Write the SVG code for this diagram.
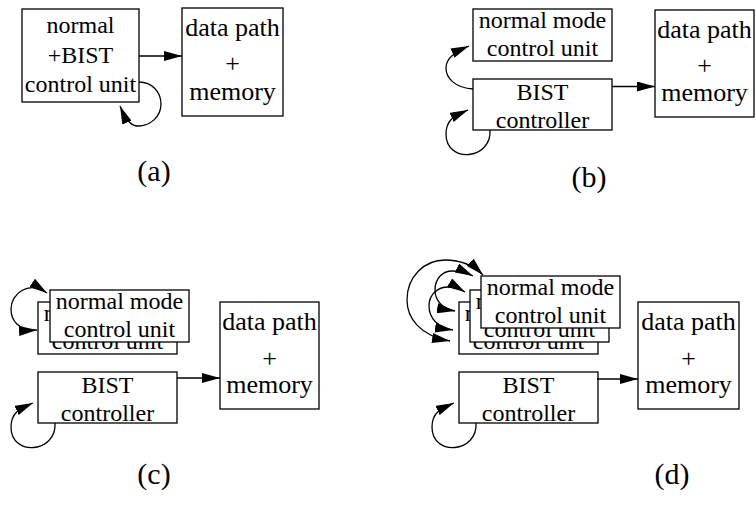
<svg xmlns="http://www.w3.org/2000/svg" width="756" height="506" viewBox="0 0 756 506">
  <style>
    .box { fill: #fff; stroke: #000; stroke-width: 1.3; }
    .wire { fill: none; stroke: #000; stroke-width: 1.3; }
    text { font-family: 'Liberation Serif', 'Times New Roman', Times, serif; fill: #000; text-anchor: middle; }
    .t24 { font-size: 24px; }
    .t26 { font-size: 26px; }
    .lbl { font-size: 30px; }
  </style>
  <defs>
    <marker id="ah" viewBox="0 0 18 10" refX="18" refY="5" markerWidth="18" markerHeight="10" markerUnits="userSpaceOnUse" orient="auto-start-reverse">
      <path d="M0,0 L18,5 L0,10 z" fill="#000"/>
    </marker>
  </defs>

  <rect width="756" height="506" fill="#fff"/>

  <!-- (a) single combined control unit -->
  <g id="a-ctrl">
    <rect class="box" x="22" y="9" width="117" height="93"/>
    <text class="t24" x="80.5" y="33">normal</text>
    <text class="t24" x="80.5" y="63">+BIST</text>
    <text class="t24" x="80.5" y="92">control unit</text>
  </g>
  <g id="a-dp">
    <rect class="box" x="182" y="8" width="101" height="108"/>
    <text class="t26" x="232.5" y="36">data path</text>
    <text class="t26" x="232.5" y="72">+</text>
    <text class="t26" x="232.5" y="100">memory</text>
  </g>

  <!-- (b) separate BIST controller -->
  <g id="b-normal">
    <rect class="box" x="473" y="9" width="139" height="52"/>
    <text class="t24" x="542.5" y="28">normal mode</text>
    <text class="t24" x="542.5" y="56">control unit</text>
  </g>
  <g id="b-bist">
    <rect class="box" x="473" y="79" width="139" height="51"/>
    <text class="t24" x="542.5" y="100">BIST</text>
    <text class="t24" x="542.5" y="128">controller</text>
  </g>
  <g id="b-dp">
    <rect class="box" x="655" y="10" width="99" height="107"/>
    <text class="t26" x="704.5" y="38">data path</text>
    <text class="t26" x="704.5" y="74">+</text>
    <text class="t26" x="704.5" y="101">memory</text>
  </g>

  <!-- (c) two normal mode control units, stacked -->
  <g id="c-normal-2">
    <rect class="box" x="38" y="302" width="139" height="52"/>
    <text class="t24" x="107.5" y="321">normal mode</text>
    <text class="t24" x="107.5" y="349">control unit</text>
  </g>
  <g id="c-normal-1">
    <rect class="box" x="50" y="290" width="139" height="52"/>
    <text class="t24" x="119.5" y="309">normal mode</text>
    <text class="t24" x="119.5" y="337">control unit</text>
  </g>
  <g id="c-bist">
    <rect class="box" x="38" y="372" width="139" height="51"/>
    <text class="t24" x="107.5" y="393">BIST</text>
    <text class="t24" x="107.5" y="421">controller</text>
  </g>
  <g id="c-dp">
    <rect class="box" x="220" y="302" width="99" height="107"/>
    <text class="t26" x="269.5" y="330">data path</text>
    <text class="t26" x="269.5" y="367">+</text>
    <text class="t26" x="269.5" y="393">memory</text>
  </g>

  <!-- (d) three normal mode control units, stacked -->
  <g id="d-normal-3">
    <rect class="box" x="459" y="302" width="139" height="52"/>
    <text class="t24" x="528.5" y="321">normal mode</text>
    <text class="t24" x="528.5" y="349">control unit</text>
  </g>
  <g id="d-normal-2">
    <rect class="box" x="470" y="290" width="139" height="52"/>
    <text class="t24" x="539.5" y="309">normal mode</text>
    <text class="t24" x="539.5" y="337">control unit</text>
  </g>
  <g id="d-normal-1">
    <rect class="box" x="481" y="276" width="139" height="52"/>
    <text class="t24" x="550.5" y="295">normal mode</text>
    <text class="t24" x="550.5" y="323">control unit</text>
  </g>
  <g id="d-bist">
    <rect class="box" x="459" y="372" width="139" height="51"/>
    <text class="t24" x="528.5" y="393">BIST</text>
    <text class="t24" x="528.5" y="421">controller</text>
  </g>
  <g id="d-dp">
    <rect class="box" x="638" y="302" width="101" height="107"/>
    <text class="t26" x="688.5" y="330">data path</text>
    <text class="t26" x="688.5" y="367">+</text>
    <text class="t26" x="688.5" y="393">memory</text>
  </g>

  <!-- connectors -->
  <g id="connectors">
    <!-- (a) -->
    <path class="wire" d="M139 56 H182" marker-end="url(#ah)"/>
    <path class="wire" d="M139 82 C152 82 161 92 161 104 C161 117 150 126 138 126 C130 126 125 118 120 106" marker-end="url(#ah)"/>
    <!-- (b) -->
    <path class="wire" d="M612 86.5 H655" marker-end="url(#ah)"/>
    <path class="wire" d="M473 89 C455 88 446 78 446 68 C446 58 455 52 469 46" marker-end="url(#ah)"/>
    <path class="wire" d="M490 130 C492 160 446 164 446 134 C446 118 457 115 468 110" marker-end="url(#ah)"/>
    <!-- (c) -->
    <path class="wire" d="M177 378 H220" marker-end="url(#ah)"/>
    <path class="wire" d="M37 330 C18 331 11 320 11 309 C11 294 28 280 47 293" marker-start="url(#ah)" marker-end="url(#ah)"/>
    <path class="wire" d="M55 423 C57 453 11 457 11 427 C11 411 22 408 33 403" marker-end="url(#ah)"/>
    <!-- (d) -->
    <path class="wire" d="M597 379 H638" marker-end="url(#ah)"/>
    <path class="wire" d="M450 341 C420 336 407 318 407 300 C407 276 425 260 445 260 C462 260 474 266 483 275" marker-start="url(#ah)" marker-end="url(#ah)"/>
    <path class="wire" d="M455 311 C442 309 435 300 435 290 C435 278 443 271 452 271 C460 271 467 273 473 276" marker-start="url(#ah)" marker-end="url(#ah)"/>
    <path class="wire" d="M453 330 C438 328 429 318 429 306 C429 294 438 287 448 287 C455 287 460 289 465 292" marker-start="url(#ah)" marker-end="url(#ah)"/>
    <path class="wire" d="M476 423 C478 453 432 457 432 427 C432 411 443 408 454 403" marker-end="url(#ah)"/>
  </g>

  <!-- sub-figure captions -->
  <g id="captions">
    <text class="lbl" x="154" y="181">(a)</text>
    <text class="lbl" x="589" y="187">(b)</text>
    <text class="lbl" x="154" y="484">(c)</text>
    <text class="lbl" x="672" y="484">(d)</text>
  </g>
</svg>
